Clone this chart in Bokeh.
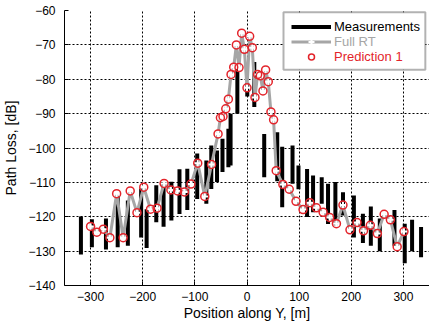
from bokeh.plotting import figure
from bokeh.models import Range1d, FixedTicker, Legend, LegendItem, BoxAnnotation
from bokeh.embed import file_html
from bokeh.resources import INLINE

# Full RT / Prediction 1 sample positions [m] and path loss [dB]
pos = [-300, -288, -275.5, -263, -250, -237.5, -224, -211, -198, -185, -172.5, -159, -146, -133,
       -120, -107.5, -94.5, -81, -68, -55.5,
       -51, -46, -40.7, -35.7, -30.6, -25.5, -20.4, -15.3, -10.2, -5.1, 0, 5.1, 10.2, 15.3, 20.4,
       25.5, 30.6, 35.7, 40.8, 45.9, 51, 56,
       68.8, 81, 94, 107.5, 120.5, 133, 146, 158.5, 171.5, 184, 197.5, 211, 223.5, 236.5, 250,
       263, 275, 288, 301]
full_rt = [-122.8, -124.5, -123.6, -126.1, -113.3, -126.1, -112.5, -118.8, -111.4, -117.8, -117.5,
           -110.3, -112.2, -112.5, -112.8, -110.5, -104.4, -114.1, -104.8, -95.9,
           -91.2, -90.8, -88.6, -85.8, -78.6, -76.5, -70.0, -76.6, -66.6, -71.3, -82.5, -67.5,
           -70.8, -85.3, -78.6, -79.0, -83.4, -77.3, -80.7, -89.5, -91.8, -106.6,
           -110.6, -112.0, -115.5, -117.9, -115.9, -117.4, -118.7, -120.2, -122.0, -116.6, -123.8,
           -121.7, -124.1, -122.5, -124.9, -119.3, -120.9, -128.7, -124.3]
prediction1 = list(full_rt)

# Measurements: fading range at each measurement position
meas_x = [-318.5, -297.5, -270.5, -248, -228.5, -203, -192.5, -174, -160, -145, -129.5, -114.5,
          -95.5, -78, -68.5, -57.5, -47, -35.7, -31.5, -18.5, 0.5, 14,
          33, 58, 67.5, 87.3, 98.7, 115.2, 126.7, 143.3, 155.4, 169.5, 184.1, 205, 222.3, 237.5,
          254.7, 282.8, 302.5, 316.6, 333.8]
meas_lo = [-131.0, -128.9, -129.5, -128.9, -128.4, -126.0, -129.1, -121.6, -122.9, -121.1, -119.2,
           -118.0, -114.8, -116.2, -111.9, -109.9, -107.0, -105.6, -105.1, -90.0, -85.0, -88.1,
           -108.5, -109.7, -117.2, -110.4, -112.0, -120.1, -118.7, -116.2, -122.1, -122.5,
           -119.6, -126.0, -127.6, -128.4, -130.0, -128.4, -133.5, -130.0, -131.8]
meas_hi = [-119.9, -120.7, -120.5, -114.0, -115.3, -111.8, -117.8, -110.8, -110.0, -109.8, -106.2,
           -106.0, -101.6, -103.6, -99.3, -100.7, -97.3, -94.4, -90.0, -77.0, -81.0, -75.0,
           -95.9, -95.4, -99.6, -99.3, -105.1, -106.1, -108.0, -108.5, -110.4, -109.9,
           -112.9, -113.8, -119.1, -117.0, -120.5, -118.0, -122.0, -120.9, -123.0]

x_ticks = [-300, -200, -100, 0, 100, 200, 300]
y_ticks = [-140, -130, -120, -110, -100, -90, -80, -70, -60]

FONT = "Liberation Sans"

p = figure(width=429, height=324, output_backend="svg", toolbar_location=None,
           x_range=Range1d(-350, 350), y_range=Range1d(-140, -60),
           min_border_left=63, min_border_right=0, min_border_top=10, min_border_bottom=39)
p.outline_line_color = None
p.background_fill_color = "white"

for g in (p.xgrid, p.ygrid):
    g.grid_line_color = "black"
    g.grid_line_dash = "2 2"
    g.grid_line_width = 1
p.xgrid.ticker = FixedTicker(ticks=x_ticks)
p.ygrid.ticker = FixedTicker(ticks=y_ticks)

for ax in (p.xaxis, p.yaxis):
    ax.major_tick_in = 4
    ax.major_tick_out = 0
    ax.minor_tick_in = 0
    ax.minor_tick_out = 0
    ax.axis_line_color = "black"
    ax.major_tick_line_color = "black"
    ax.major_label_text_font = FONT
    ax.major_label_text_font_size = "12px"
    ax.major_label_text_color = "black"
    ax.axis_label_text_font = FONT
    ax.axis_label_text_font_size = "14px"
    ax.axis_label_text_font_style = "normal"
    ax.axis_label_text_color = "black"
p.xaxis.ticker = FixedTicker(ticks=x_ticks)
p.yaxis.ticker = FixedTicker(ticks=y_ticks)
p.xaxis.axis_label = "Position along Y, [m]"
p.yaxis.axis_label = "Path Loss, [dB]"
p.xaxis.major_label_standoff = 6
p.yaxis.major_label_standoff = 9
p.xaxis.axis_label_standoff = 1
p.yaxis.axis_label_standoff = 6

meas = p.segment(x0=meas_x, y0=meas_lo, x1=meas_x, y1=meas_hi, line_color="black", line_width=4)
rt_line = p.line(pos, full_rt, line_color="#a6a6a6", line_width=3)
rt_pts = p.scatter(pos, full_rt, marker="cross", size=7, line_color="white", line_width=2)
pred = p.scatter(pos, prediction1, marker="circle", size=8, line_color="#e3242b",
                 line_width=1.5, fill_color=None)

box = BoxAnnotation(left=70, right=342, top=-60.5, bottom=-77.2,
                    fill_color="white", fill_alpha=1.0, line_color="black", line_width=2)
p.add_layout(box)

entries = [("Measurements", [meas], "black"),
           ("Full RT", [rt_line, rt_pts], "#a6a6a6"),
           ("Prediction 1", [pred], "#e3242b")]
for i, (lab, rends, col) in enumerate(entries):
    lg = Legend(items=[LegendItem(label=lab, renderers=rends)],
                location=(227, 251.5 - 15 * i), border_line_color=None,
                background_fill_alpha=0, padding=0, margin=0, spacing=0,
                glyph_width=40, glyph_height=15, label_height=15, label_standoff=3,
                label_text_font=FONT, label_text_font_size="13px",
                label_text_color=col, label_text_baseline="middle")
    p.add_layout(lg)

open("out.html", "w").write(file_html(p, INLINE))
